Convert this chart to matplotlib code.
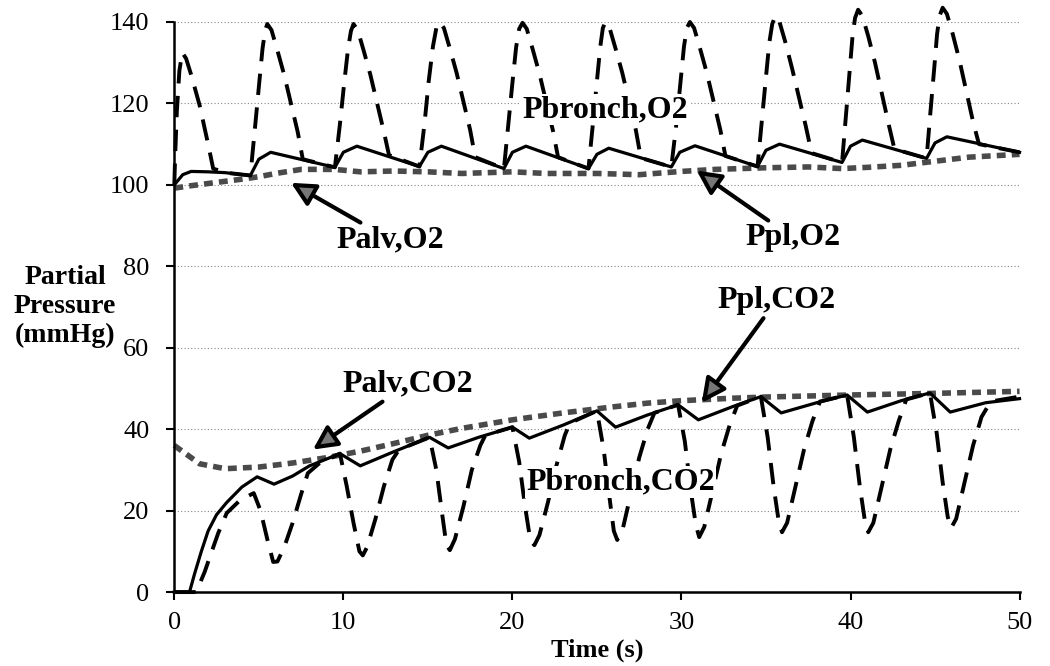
import matplotlib
matplotlib.use('Agg')
import matplotlib.pyplot as plt

# ---- data (time in s, pressure in mmHg) ----
t_ppl_o2 = [0, 0.5, 1.0, 2.0, 3.0, 4.5, 5.0, 5.7, 9.5, 10.0, 10.8, 14.5, 15.0, 15.8,
            19.5, 20.0, 20.8, 24.5, 25.0, 25.7, 29.4, 29.9, 30.8, 34.5, 35.0, 35.8,
            39.5, 40.0, 40.7, 44.5, 45.0, 45.7, 50.0]
ppl_o2 = [100.0, 102.5, 103.3, 103.2, 103.0, 102.3, 106.3, 108.0, 104.3, 108.0, 109.5,
          104.5, 108.0, 109.5, 104.0, 108.0, 109.5, 104.0, 107.5, 109.0, 104.4, 108.0,
          109.6, 104.5, 108.5, 110.0, 105.5, 109.5, 111.0, 106.5, 110.3, 111.8, 108.0]

t_pbr_o2 = [0, 0.05, 0.15, 0.3, 0.47, 0.7, 1.0, 1.5, 2.0, 2.3, 3.0,
            4.5, 4.75, 5.0, 5.22, 5.38, 5.5, 5.75, 6.1, 6.5, 6.9, 7.3, 7.6,
            9.5, 9.8, 10.05, 10.28, 10.45, 10.6, 10.85, 11.2, 11.6, 12.0, 12.4, 12.7,
            14.5, 14.8, 15.05, 15.3, 15.5, 15.7, 15.95, 16.3, 16.7, 17.1, 17.5, 17.8,
            19.5, 19.75, 20.0, 20.22, 20.4, 20.6, 20.85, 21.2, 21.6, 22.0, 22.4, 22.7,
            24.5, 24.75, 25.0, 25.2, 25.35, 25.5, 25.75, 26.1, 26.5, 26.9, 27.3, 27.6,
            29.4, 29.7, 29.95, 30.15, 30.32, 30.5, 30.75, 31.1, 31.5, 31.9, 32.3, 32.6,
            34.5, 34.75, 35.0, 35.2, 35.37, 35.55, 35.8, 36.15, 36.55, 36.95, 37.35, 37.7,
            39.5, 39.72, 39.95, 40.12, 40.27, 40.45, 40.7, 41.05, 41.45, 41.85, 42.25, 42.6,
            44.5, 44.72, 44.95, 45.12, 45.27, 45.45, 45.7, 46.05, 46.45, 46.85, 47.25, 47.6,
            50.0]
pbr_o2 = [100, 107, 118, 128, 132.5, 131, 127, 119.5, 110, 104, 103,
          102.3, 113, 124, 133.5, 138, 139.5, 138, 133, 127, 120, 113, 106.3,
          104.3, 115, 125, 133.5, 137.8, 139.5, 138, 133, 127, 120, 113, 107.3,
          104.5, 115, 125.5, 134, 138.5, 140, 138.5, 133.5, 127.5, 120.5, 113.5, 106.8,
          104.0, 114.5, 125, 133.8, 138.3, 139.8, 138.3, 133.3, 127.3, 120.3, 113.3, 106.8,
          104.0, 114.5, 125.5, 134, 138.5, 140, 138.5, 133.5, 127.5, 120.5, 113.5, 106.6,
          104.4, 115, 125.5, 134, 138.5, 140, 138.5, 133.5, 127.5, 120.5, 113.5, 107.1,
          104.5, 115.5, 126.5, 135, 139.5, 141.5, 140, 135, 128.5, 121.5, 114.5, 107.8,
          105.5, 116.5, 128, 136.5, 141, 143, 141.5, 136.5, 130, 122.5, 115, 108.8,
          106.5, 117.5, 128.5, 137, 141.5, 143.5, 142, 137, 130.5, 123, 115.5, 110.0,
          108.0]

t_palv_o2 = [0, 1, 2.5, 4, 5, 6, 7.5, 9.5, 11, 13, 15, 17, 20, 22, 25, 27.5, 30, 32,
             35, 37.5, 39.5, 41, 43, 45, 47, 50]
palv_o2 = [99.2, 99.8, 100.6, 101.4, 102, 102.8, 103.8, 103.8, 103.2, 103.4, 103.2,
           102.8, 103.2, 102.8, 102.8, 102.5, 103.3, 103.8, 104.2, 104.4, 104.0, 104.3,
           104.8, 105.8, 106.8, 107.5]

t_ppl_co2 = [0, 0.9, 1.2, 1.6, 2.0, 2.5, 3.1, 4.0, 4.9, 5.9, 7.0, 8.0, 9.8, 11.0, 13.0,
             15.1, 16.2, 18.0, 20.0, 21.0, 23.0, 25.0, 26.1, 28.0, 29.8, 31.0, 33.0,
             34.7, 35.9, 38.0, 39.8, 41.0, 43.0, 44.7, 45.9, 48.0, 50.0]
ppl_co2 = [0, 0, 4.5, 10, 15, 19, 22, 25.8, 28.3, 26.5, 28.5, 31, 34, 31, 34.5, 38, 35.4,
           38, 40.5, 37.8, 41, 44.5, 40.5, 43.5, 46, 42.3, 45.5, 48, 44, 46.5, 48.4,
           44.2, 47, 48.9, 44.2, 46.5, 47.5]

t_pbr_co2 = [0, 1.3, 1.8, 2.1, 2.6, 3.1, 3.9, 4.7,
             5.1, 5.5, 5.85, 6.1, 6.5, 7.0, 7.5, 7.9, 8.6,
             9.8, 10.2, 10.6, 10.95, 11.15, 11.4, 11.9, 12.4, 12.9, 13.3,
             15.1, 15.5, 15.85, 16.1, 16.3, 16.6, 17.1, 17.6, 18.1, 18.4,
             20.0, 20.4, 20.75, 21.05, 21.3, 21.6, 22.1, 22.6, 23.1, 23.4,
             25.0, 25.4, 25.75, 26.0, 26.2, 26.5, 27.0, 27.5, 28.0, 28.4,
             29.8, 30.2, 30.55, 30.85, 31.05, 31.35, 31.85, 32.35, 32.85, 33.3,
             34.7, 35.1, 35.45, 35.75, 35.95, 36.25, 36.75, 37.25, 37.75, 38.2,
             39.8, 40.2, 40.55, 40.85, 41.05, 41.35, 41.85, 42.35, 42.85, 43.3,
             44.7, 45.1, 45.45, 45.75, 45.95, 46.25, 46.75, 47.25, 47.75, 48.3,
             50.0]
pbr_co2 = [0, 0, 5, 8.6, 14.5, 19.4, 22.6, 24.3,
           20, 13, 7.4, 7.5, 11, 17, 24, 29.2, 31.7,
           34, 26, 17, 10, 9, 11, 18, 26, 32.5, 35,
           38, 30, 19, 11.5, 10.3, 13, 21, 30, 36, 38.5,
           40.5, 32, 21, 13, 11.5, 14, 22, 31, 38.5, 41.5,
           44.5, 35, 23, 15, 12.8, 15, 24, 33, 40, 44,
           46, 37, 25, 16.5, 13.5, 16, 25, 34, 41, 45.8,
           48, 38, 26, 17.5, 14.7, 17, 26, 35, 42, 46.8,
           48.4, 38, 26, 17.5, 14.7, 17, 26, 35, 42, 47.3,
           48.9, 39, 27, 18.5, 15.7, 18, 27, 36, 43, 46.8,
           48.0]

t_palv_co2 = [0, 0.5, 1.5, 3, 5, 7, 9, 11, 13, 15, 17, 20, 23, 26, 28, 30, 33, 35, 38,
              40, 45, 50]
palv_co2 = [36, 34.5, 31.5, 30.3, 30.7, 31.7, 33, 34.6, 36.5, 38.5, 40.2, 42.3, 44,
            45.5, 46.4, 47, 47.6, 47.9, 48.2, 48.4, 48.8, 49.3]

plt.rcParams['font.family'] = 'Liberation Serif'

fig = plt.figure(figsize=(10.5, 6.66), dpi=100)
ax = fig.add_axes([0.166, 0.111, 0.805, 0.856])

dotted = dict(color='#4a4a4a', lw=4.0, dashes=(1.6, 1.1), solid_capstyle='butt',
              dash_capstyle='butt', clip_on=False)
dashed = dict(color='black', lw=2.8, dashes=(5.5, 3.2), clip_on=False)
solid = dict(color='black', lw=2.3, clip_on=False)

ax.plot(t_palv_o2, palv_o2, **dotted)
ax.plot(t_palv_co2, palv_co2, **dotted)
ax.plot(t_ppl_o2, ppl_o2, **solid)
ax.plot(t_ppl_co2, ppl_co2, **solid)
ax.plot(t_pbr_o2, pbr_o2, **dashed)
ax.plot(t_pbr_co2, pbr_co2, **dashed)

ax.set_xlim(0, 50)
ax.set_ylim(0, 140)
ax.set_xticks(range(0, 51, 10))
ax.set_yticks(range(0, 141, 20))
ax.yaxis.grid(True, color='#888888', lw=0.8, linestyle=(0, (1, 2)))
ax.set_axisbelow(True)
for s in ['top', 'right']:
    ax.spines[s].set_visible(False)
for s in ['left', 'bottom']:
    ax.spines[s].set_linewidth(1.8)
ax.tick_params(direction='out', length=6, width=1.5, labelsize=19)
ax.tick_params(axis='y', pad=12)
ax.tick_params(axis='x', pad=8)

ax.set_xlabel('Time (s)', fontsize=19, fontweight='bold', labelpad=4)
fig.text(0.062, 0.54, 'Partial\nPressure\n(mmHg)', ha='center', va='center',
         fontsize=20, fontweight='bold', linespacing=1.2)

lab = dict(fontsize=23, fontweight='bold', ha='center', va='center')
box = dict(facecolor='white', edgecolor='none', pad=1)
arrow = dict(arrowstyle='-|>', lw=3, fc='#777777', ec='black', mutation_scale=36,
             shrinkA=0, shrinkB=0)

ax.text(25.5, 118.5, 'Pbronch,O2', bbox=box, zorder=5, **lab)
ax.text(26.4, 27.0, 'Pbronch,CO2', bbox=box, zorder=5, **lab)
ax.annotate('Palv,O2', xy=(6.9, 100.5), xytext=(12.8, 86.5), arrowprops=arrow, **lab)
ax.annotate('Ppl,O2', xy=(30.9, 103.5), xytext=(36.6, 87), arrowprops=arrow, **lab)
ax.annotate('Palv,CO2', xy=(8.2, 35), xytext=(13.8, 51), arrowprops=arrow, **lab)
ax.annotate('Ppl,CO2', xy=(31.2, 46.5), xytext=(35.6, 71.5), arrowprops=arrow, **lab)

fig.savefig('out.png', dpi=100)
